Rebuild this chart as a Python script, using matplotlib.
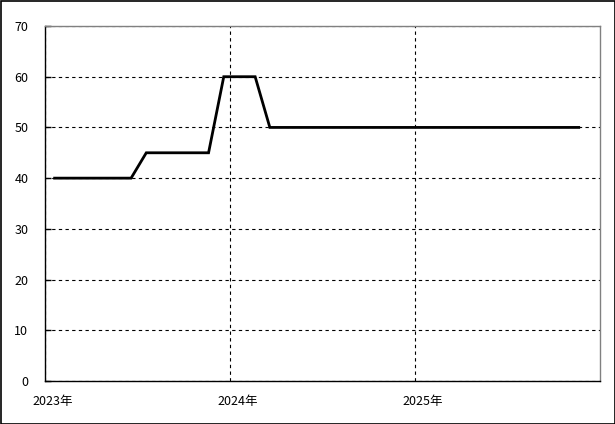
import matplotlib
matplotlib.use("Agg")
import matplotlib.pyplot as plt
import matplotlib.dates as mdates
import matplotlib.transforms as mtransforms
import numpy as np
import datetime as dt

plt.rcParams['font.family'] = ['Noto Sans CJK JP', 'DejaVu Sans']

# monthly data Jan 2023 .. Nov 2025
months = [dt.date(2023 + (i // 12), (i % 12) + 1, 20) for i in range(35)]
values = [40, 40, 40, 40, 40, 40,
          45, 45, 45, 45, 45,
          60, 60, 60,
          50, 50, 50, 50, 50, 50, 50, 50, 50, 50, 50, 50, 50, 50, 50, 50, 50, 50, 50, 50, 50]
year_ticks = [dt.date(2023, 1, 1), dt.date(2024, 1, 1), dt.date(2025, 1, 1)]
year_labels = ["2023年", "2024年", "2025年"]
y_ticks = [0, 10, 20, 30, 40, 50, 60, 70]

fig = plt.figure(figsize=(6.15, 4.24), dpi=100)
fig.patch.set_facecolor('white')
ax = fig.add_axes([45/615, 43/424, 555/615, 355/424])

ax.plot(months, values, color='black', linewidth=2, solid_joinstyle='miter')
ax.set_xlim(dt.date(2023, 1, 1), dt.date(2026, 1, 1))
ax.set_ylim(0, 70)
ax.set_yticks(y_ticks)
ax.set_yticklabels([str(v) for v in y_ticks], fontsize=9)
ax.set_xticks(year_ticks)
ax.set_xticklabels([])

offset = mtransforms.ScaledTranslation(7.5/100, -14/100, fig.dpi_scale_trans)
trans = ax.get_xaxis_transform() + offset
for d, lab in zip(year_ticks, year_labels):
    ax.text(mdates.date2num(d), 0, lab, transform=trans, ha='center', va='top',
            fontsize=9, clip_on=False)

ax.grid(True, color='black', linestyle=(0, (3, 3)), linewidth=0.8)
ax.tick_params(axis='x', length=0, pad=10)
ax.tick_params(axis='y', direction='in', length=4, width=1, pad=12)
ax.spines['left'].set_color('black')
ax.spines['bottom'].set_color('black')
ax.spines['top'].set_color('#808080')
ax.spines['right'].set_color('#808080')
for s in ax.spines.values():
    s.set_linewidth(1)

# outer frame
fig.add_artist(plt.Rectangle((0.5/615, 0.5/424), 1 - 1/615, 1 - 1/424,
                             transform=fig.transFigure, fill=False,
                             edgecolor='black', linewidth=1.2))

fig.savefig("out.png", dpi=100)
